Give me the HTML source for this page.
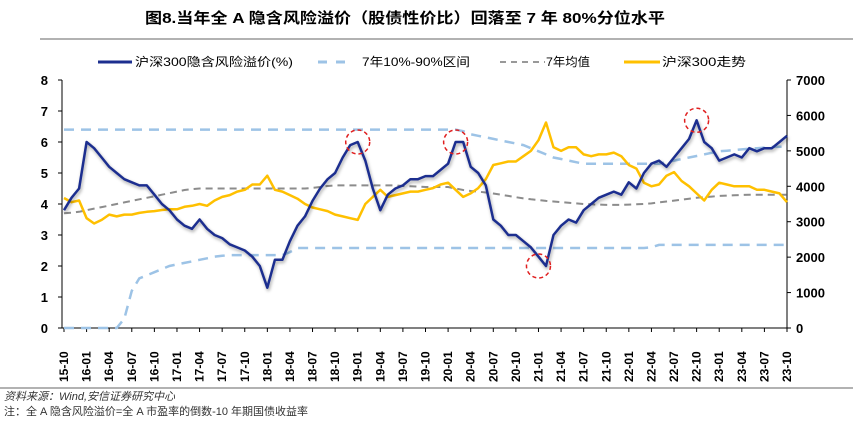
<!DOCTYPE html>
<html><head><meta charset="utf-8"><style>
body{margin:0;background:#fff;width:853px;height:416px;overflow:hidden;font-family:"Liberation Sans","Noto Sans CJK SC",sans-serif}
</style></head><body>
<svg width="853" height="416" xmlns="http://www.w3.org/2000/svg" id="chart">
<defs><filter id="sh" x="-5%" y="-5%" width="110%" height="120%"><feDropShadow dx="1" dy="2" stdDeviation="1.5" flood-color="#000" flood-opacity="0.35"/></filter></defs>
<text x="145" y="23" textLength="520" lengthAdjust="spacingAndGlyphs" font-size="15" font-weight="bold" font-family="Liberation Sans,Noto Sans CJK SC,sans-serif">图8.当年全 A 隐含风险溢价（股债性价比）回落至 7 年 80%分位水平</text>
<line x1="40" y1="39" x2="853" y2="39" stroke="#999" stroke-width="1.5"/>
<g id="legend" font-size="12">
<g><line x1="98" y1="62" x2="132" y2="62" stroke="#1c2f8f" stroke-width="3"/><text x="135" y="66" textLength="158" lengthAdjust="spacingAndGlyphs">沪深300隐含风险溢价(%)</text></g>
<g><line x1="318" y1="62" x2="346" y2="62" stroke="#9dc3e6" stroke-width="3" stroke-dasharray="9,9"/><text x="362" y="66" textLength="108" lengthAdjust="spacingAndGlyphs">7年10%-90%区间</text></g>
<g><line x1="500" y1="62" x2="545" y2="62" stroke="#999" stroke-width="2" stroke-dasharray="6,5"/><text x="546" y="66" textLength="44" lengthAdjust="spacingAndGlyphs">7年均值</text></g>
<g><line x1="624" y1="62" x2="660" y2="62" stroke="#ffc000" stroke-width="3"/><text x="662" y="66" textLength="84" lengthAdjust="spacingAndGlyphs">沪深300走势</text></g>
</g>
<g id="axes"></g>
<g id="plot"></g>
<line x1="0" y1="388" x2="853" y2="388" stroke="#999" stroke-width="1.5"/>
<text x="4" y="400" font-size="11" font-style="italic" fill="#333">资料来源：Wind,安信证券研究中心</text>
<text x="4" y="415" font-size="11" fill="#333">注：全 A 隐含风险溢价=全 A 市盈率的倒数-10 年期国债收益率</text>
</svg>
<script>
const xLabels=["15-10","16-01","16-04","16-07","16-10","17-01","17-04","17-07","17-10","18-01","18-04","18-07","18-10","19-01","19-04","19-07","19-10","20-01","20-04","20-07","20-10","21-01","21-04","21-07","21-10","22-01","22-04","22-07","22-10","23-01","23-04","23-07","23-10"];
const leftTicks=[0,1,2,3,4,5,6,7,8];
const rightTicks=[0,1000,2000,3000,4000,5000,6000,7000];
const premium=[3.8,4.2,4.5,6.0,5.8,5.5,5.2,5.0,4.8,4.7,4.6,4.6,4.3,4.0,3.8,3.5,3.3,3.2,3.5,3.2,3.0,2.9,2.7,2.6,2.5,2.3,2.0,1.3,2.2,2.2,2.8,3.3,3.6,4.1,4.5,4.8,5.0,5.5,5.9,6.0,5.4,4.5,3.8,4.3,4.5,4.6,4.8,4.8,4.9,4.9,5.1,5.3,6.0,6.0,5.2,5.0,4.6,3.5,3.3,3.0,3.0,2.8,2.6,2.3,2.0,3.0,3.3,3.5,3.4,3.8,4.0,4.2,4.3,4.4,4.3,4.7,4.5,5.0,5.3,5.4,5.2,5.5,5.8,6.1,6.7,6.0,5.8,5.4,5.5,5.6,5.5,5.8,5.7,5.8,5.8,6.0,6.2];
const csi300=[3670,3550,3600,3100,2950,3050,3200,3150,3200,3200,3250,3280,3300,3330,3350,3350,3420,3450,3500,3450,3600,3700,3750,3850,3900,4050,4050,4300,3900,3850,3750,3650,3500,3400,3350,3300,3200,3150,3100,3050,3500,3700,3900,3700,3750,3800,3850,3850,3900,3950,4050,4100,3900,3700,3800,3950,4200,4600,4650,4700,4700,4850,5000,5300,5800,5100,5000,5100,5100,4900,4850,4900,4900,4950,4850,4600,4500,4100,4000,4050,4300,4400,4150,4000,3800,3600,3900,4100,4050,4000,4000,4000,3900,3900,3850,3800,3550];
const bandUpper=[6.4,6.4,6.4,6.4,6.4,6.4,6.4,6.4,6.4,6.4,6.4,6.4,6.4,6.4,6.4,6.4,6.4,6.4,6.4,6.4,6.4,6.4,6.4,6.4,6.4,6.4,6.4,6.4,6.4,6.4,6.4,6.4,6.4,6.4,6.4,6.4,6.4,6.4,6.4,6.4,6.4,6.4,6.4,6.4,6.4,6.4,6.4,6.4,6.4,6.4,6.4,6.4,6.4,6.35,6.25,6.2,6.15,6.1,6.05,6.0,5.95,5.9,5.8,5.7,5.6,5.5,5.45,5.4,5.35,5.3,5.3,5.3,5.3,5.3,5.3,5.3,5.3,5.3,5.3,5.3,5.35,5.4,5.45,5.5,5.55,5.6,5.65,5.7,5.72,5.74,5.76,5.78,5.8,5.82,5.84,5.85,5.85];
const bandLower=[0,0,0,0,0,0,0,0,0.3,1.2,1.6,1.7,1.8,1.9,2.0,2.05,2.1,2.15,2.2,2.25,2.3,2.33,2.35,2.35,2.35,2.35,2.35,2.35,2.35,2.35,2.45,2.58,2.58,2.58,2.58,2.58,2.58,2.58,2.58,2.58,2.58,2.58,2.58,2.58,2.58,2.58,2.58,2.58,2.58,2.58,2.58,2.58,2.58,2.58,2.58,2.58,2.58,2.58,2.58,2.58,2.58,2.58,2.58,2.58,2.58,2.58,2.58,2.58,2.58,2.58,2.58,2.58,2.58,2.58,2.58,2.58,2.58,2.58,2.6,2.68,2.68,2.68,2.68,2.68,2.68,2.68,2.68,2.68,2.68,2.68,2.68,2.68,2.68,2.68,2.68,2.68,2.68];
const mean7y=[3.7,3.72,3.75,3.8,3.85,3.9,3.95,4.0,4.05,4.1,4.15,4.2,4.25,4.3,4.35,4.4,4.45,4.48,4.5,4.5,4.5,4.5,4.5,4.5,4.5,4.5,4.5,4.5,4.5,4.5,4.5,4.5,4.5,4.52,4.55,4.58,4.6,4.6,4.6,4.6,4.6,4.6,4.6,4.6,4.6,4.58,4.57,4.56,4.55,4.55,4.55,4.55,4.5,4.45,4.42,4.4,4.37,4.34,4.3,4.26,4.22,4.18,4.15,4.13,4.1,4.08,4.06,4.04,4.02,4.0,3.99,3.98,3.97,3.97,3.97,3.98,3.99,4.0,4.02,4.05,4.08,4.11,4.14,4.17,4.2,4.22,4.24,4.26,4.27,4.28,4.29,4.3,4.3,4.3,4.3,4.3,4.3];
const highlights=[[39,6.0],[52,6.0],[63,2.0],[84,6.7]];

const NS="http://www.w3.org/2000/svg";
const X0=64,X1=787,YT=80,YB=328,NT=96;
const xs=t=>X0+t*(X1-X0)/NT;
const yl=v=>YB-v/8*(YB-YT);
const yr=v=>YB-v/7000*(YB-YT);
function mk(tag,attrs,parent){const e=document.createElementNS(NS,tag);for(const k in attrs)e.setAttribute(k,attrs[k]);parent.appendChild(e);return e;}
const axes=document.getElementById('axes'),plot=document.getElementById('plot');
let a=mk('line',{x1:62,y1:YT,x2:62,y2:YB,stroke:'#000','stroke-width':1},axes);


a=mk('line',{x1:X1,y1:YT,x2:X1,y2:YB,stroke:'#000','stroke-width':1},axes);


a=mk('line',{x1:62,y1:YB,x2:X1,y2:YB,stroke:'#000','stroke-width':1},axes);


leftTicks.forEach(v=>{const y=yl(v);mk('line',{x1:58,y1:y,x2:62,y2:y,stroke:'#000'},axes);
const t=mk('text',{x:48,y:y+5,'text-anchor':'end','font-size':13,'font-weight':'bold'},axes);t.textContent=v;

});
rightTicks.forEach(v=>{const y=yr(v);mk('line',{x1:X1,y1:y,x2:X1+4,y2:y,stroke:'#000'},axes);
const t=mk('text',{x:796,y:y+5,'font-size':13,'font-weight':'bold'},axes);t.textContent=v;

});
xLabels.forEach((l,i)=>{const x=xs(i*3);mk('line',{x1:x,y1:YB,x2:x,y2:YB+4,stroke:'#000'},axes);
const t=mk('text',{x:0,y:0,transform:`translate(${x+4},${YB+54}) rotate(-90)`,'font-size':12,'font-weight':'bold'},axes);t.textContent=l;

});
function path(arr,yf){return arr.map((v,i)=>(i?'L':'M')+xs(i).toFixed(1)+','+yf(v).toFixed(1)).join('');}
let p=mk('path',{d:path(bandUpper,yl),fill:'none',stroke:'#9dc3e6','stroke-width':2.5,'stroke-dasharray':'10,7'},plot);


p=mk('path',{d:path(bandLower,yl),fill:'none',stroke:'#9dc3e6','stroke-width':2.5,'stroke-dasharray':'10,7'},plot);


p=mk('path',{d:path(mean7y,yl),fill:'none',stroke:'#8c8c8c','stroke-width':2,'stroke-dasharray':'7,5'},plot);


p=mk('path',{d:path(csi300,yr),fill:'none',stroke:'#ffc000','stroke-width':2.5,'stroke-linejoin':'round'},plot);


p=mk('path',{d:path(premium,yl),fill:'none',stroke:'#1c2f8f','stroke-width':2.5,'stroke-linejoin':'round',filter:'url(#sh)'},plot);


highlights.forEach(h=>{const c=mk('circle',{cx:xs(h[0]),cy:yl(h[1]),r:12,fill:'none',stroke:'#e02020','stroke-width':1.5,'stroke-dasharray':'4,3'},plot);

});
</script>
</body></html>
